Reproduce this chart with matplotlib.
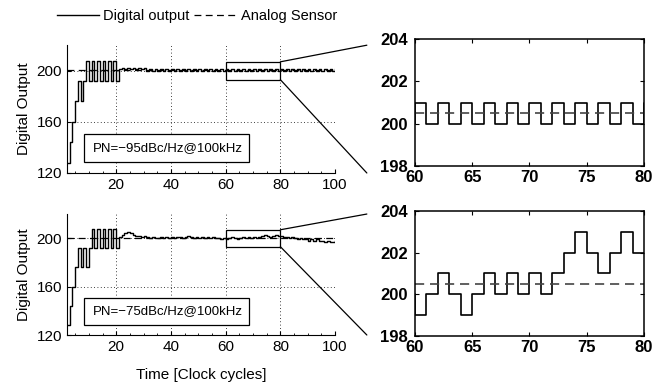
import numpy as np
import matplotlib
matplotlib.use("Agg")
import matplotlib.pyplot as plt
from matplotlib.patches import Rectangle, ConnectionPatch
from matplotlib.transforms import blended_transform_factory

plt.rcParams['font.family'] = ['Liberation Sans', 'DejaVu Sans']

# clock cycles 2..100
t = np.arange(2, 101)

# digital output, PN = -95 dBc/Hz
dig_top = [128, 144, 160, 176, 192, 176, 192, 208, 192, 208,   # t 2-11
           192, 208, 192, 208, 192, 208, 192, 208, 192,        # t 12-20
           201, 202, 201, 202, 201, 202, 201, 202, 201, 202,   # t 21-30
           200, 201, 200, 201, 200, 201, 200, 201, 200, 201,   # t 31-40
           200, 201, 200, 201, 200, 201, 200, 201, 200, 201,   # t 41-50
           200, 201, 200, 201, 200, 201, 200, 201, 200, 201,   # t 51-60
           200, 201, 200, 201, 200, 201, 200, 201, 200, 201,   # t 61-70
           200, 201, 200, 201, 200, 201, 200, 201, 200, 201,   # t 71-80
           200, 201, 200, 201, 200, 201, 200, 201, 200, 201,   # t 81-90
           200, 201, 200, 201, 200, 201, 200, 201, 200, 201]   # t 91-100

# digital output, PN = -75 dBc/Hz
dig_bot = [128, 144, 160, 176, 192, 176, 192, 176, 192, 208,   # t 2-11
           192, 208, 192, 208, 192, 208, 192, 208, 192,        # t 12-20
           201, 203, 204, 205, 204, 203, 202, 202, 201, 202,   # t 21-30
           201, 200, 201, 200, 200, 201, 200, 201, 200, 201,   # t 31-40
           200, 201, 201, 200, 201, 202, 201, 200, 201, 200,   # t 41-50
           201, 200, 201, 200, 201, 200, 200, 199, 200, 199,   # t 51-60
           200, 201, 200, 199, 200, 201, 200, 201, 200, 201,   # t 61-70
           200, 201, 202, 203, 202, 201, 202, 203, 202, 202,   # t 71-80
           201, 201, 200, 201, 200, 199, 200, 199, 199, 198,   # t 81-90
           199, 198, 199, 198, 198, 197, 198, 197, 197, 198]   # t 91-100

analog_level = 200.5
pn_labels = ['PN=\u221295dBc/Hz@100kHz', 'PN=\u221275dBc/Hz@100kHz']
zoom_x = (60, 80)
zoom_y = (193, 207)

fig = plt.figure(figsize=(6.67, 3.92), dpi=100)
left_pos = [[0.1004, 0.5587, 0.402, 0.326], [0.1004, 0.1454, 0.402, 0.3086]]
right_pos = [[0.622, 0.5765, 0.3435, 0.324], [0.622, 0.1429, 0.3435, 0.3188]]
dash = (0, (5.5, 3.5))

for i, series in enumerate([dig_top, dig_bot]):
    ax = fig.add_axes(left_pos[i])
    l1, = ax.step(t, series, where='post', color='black', lw=1.0, label='Digital output')
    l2 = ax.axhline(analog_level, color='black', lw=0.9, ls=dash, label='Analog Sensor')
    ax.set_xlim(2, 100)
    ax.set_ylim(120, 220)
    ax.set_xticks([20, 40, 60, 80, 100])
    ax.set_yticks([120, 160, 200])
    ax.set_xticks(np.arange(5, 101, 5), minor=True)
    ax.grid(True, linestyle=(0, (1, 3)), color='black', lw=0.6)
    ax.spines['top'].set_visible(False)
    ax.spines['right'].set_visible(False)
    ax.tick_params(direction='in', labelsize=11, length=3)
    ax.tick_params(which='minor', direction='in', length=1.5)
    ax.set_ylabel('Digital Output', fontsize=11)
    ax.add_patch(Rectangle((0.063, 0.086), 0.617, 0.219, transform=ax.transAxes,
                           fill=True, facecolor='white', edgecolor='black', lw=0.9, zorder=5))
    ax.text(0.095, 0.195, pn_labels[i], transform=ax.transAxes, fontsize=9.5,
            va='center', ha='left', zorder=6)
    ax.add_patch(Rectangle((zoom_x[0], zoom_y[0]), zoom_x[1] - zoom_x[0], zoom_y[1] - zoom_y[0],
                           fill=False, edgecolor='black', lw=0.9, zorder=4))
    if i == 1:
        ax.set_xlabel('Time [Clock cycles]', fontsize=11, labelpad=10)
    else:
        fig.legend([l1, l2], ['Digital output', 'Analog Sensor'], loc='upper center',
                   bbox_to_anchor=(0.295, 1.01), ncol=2, frameon=False, fontsize=10.5,
                   handlelength=2.9, handletextpad=0.3, columnspacing=0.3)

    blend = blended_transform_factory(fig.transFigure, ax.transAxes)
    for ya, yb in [(zoom_y[1], 1.0), (zoom_y[0], 0.0)]:
        con = ConnectionPatch(xyA=(zoom_x[1], ya), coordsA=ax.transData,
                              xyB=(0.55, yb), coordsB=blend, color='black', lw=0.9)
        fig.add_artist(con)

    # zoomed view
    axz = fig.add_axes(right_pos[i])
    axz.step(t, series, where='post', color='black', lw=1.2)
    axz.axhline(analog_level, color='#444444', lw=1.2, ls=dash)
    axz.set_xlim(*zoom_x)
    axz.set_ylim(198, 204)
    axz.set_xticks([60, 65, 70, 75, 80])
    axz.set_yticks([198, 200, 202, 204])
    axz.tick_params(direction='in', top=True, right=True, length=3, labelsize=12)
    axz.tick_params(axis='x', pad=3)
    axz.tick_params(axis='y', pad=5)
    for lab in axz.get_xticklabels() + axz.get_yticklabels():
        lab.set_fontweight('bold')
    for s in axz.spines.values():
        s.set_linewidth(1.1)

fig.savefig('out.png', dpi=100)
